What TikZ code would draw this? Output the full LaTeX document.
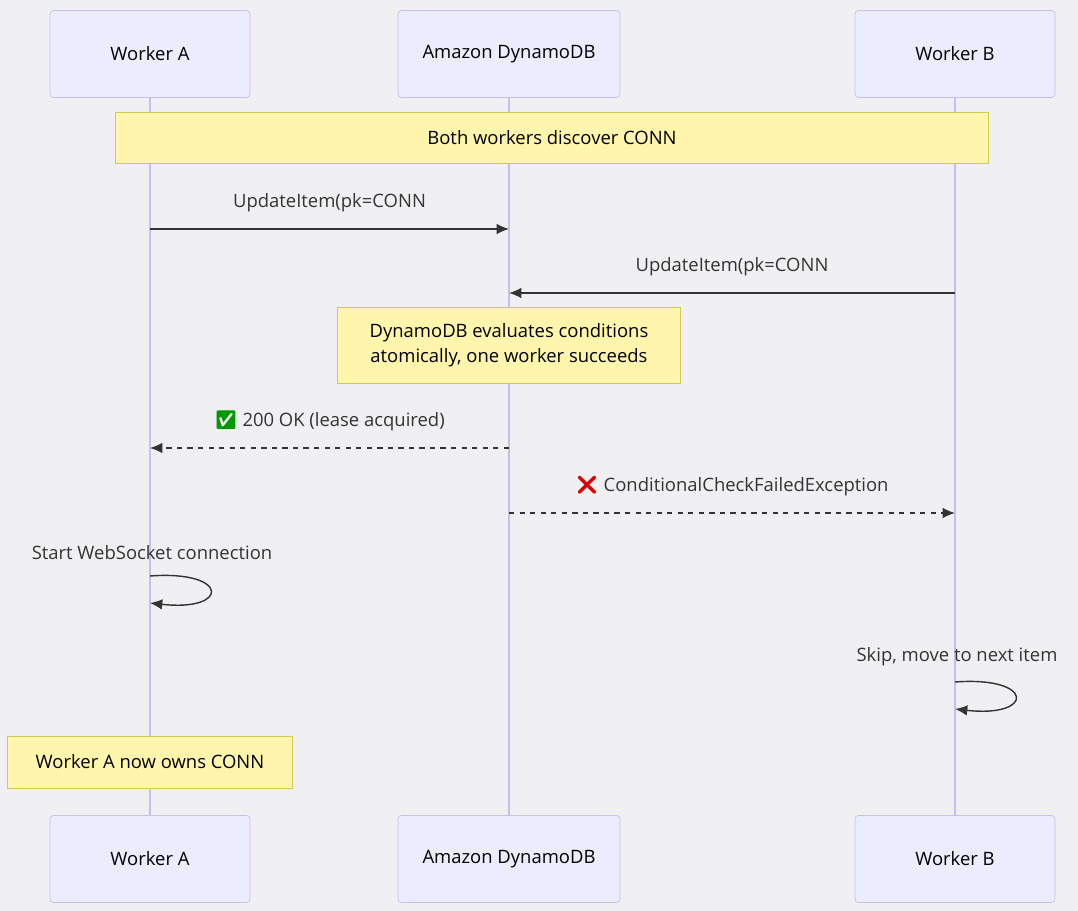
\documentclass[tikz,border=0pt]{standalone}
\usepackage{fontspec}
\setmainfont{Open Sans}
\newfontfamily\emojifont{Noto Emoji}
\usetikzlibrary{positioning,arrows.meta}
\definecolor{actfill}{HTML}{ECECFF}
\definecolor{actline}{HTML}{C8BDF0}
\definecolor{notefill}{HTML}{FFF5AD}
\definecolor{noteline}{HTML}{CCCC55}
\definecolor{ink}{HTML}{333333}
\definecolor{bg}{HTML}{F0F0F2}
\tikzset{
  actor/.style={draw=actline, fill=actfill, rounded corners=2pt, minimum width=200*0.02cm, minimum height=87*0.02cm, font=\fontsize{10.5}{12}\selectfont},
  note/.style={draw=noteline, fill=notefill, align=center, font=\fontsize{10.5}{14}\selectfont},
  msg/.style={-{Latex[length=7pt,width=6pt]}, ink, thick},
  reply/.style={msg, dashed},
  lbl/.style={font=\fontsize{10.5}{12}\selectfont, text=ink}
}
\begin{document}
\begin{tikzpicture}[x=0.02cm, y=-0.02cm]
  \fill[bg] (0,0) rectangle (1078,911);
  \useasboundingbox (0,0) rectangle (1078,911);

  % Lifelines
  \foreach \n/\x in {A/150, D/509, B/955} {
    \draw[actline, thick] (\x,97) -- (\x,815);
  }

  % Actors
  \node[actor] (topA) at (150,54) {Worker A};
  \node[actor, minimum width=222*0.02cm] (topD) at (509,54) {Amazon DynamoDB};
  \node[actor] (topB) at (955,54) {Worker B};
  \node[actor] (botA) at (150,859) {Worker A};
  \node[actor, minimum width=222*0.02cm] (botD) at (509,859) {Amazon DynamoDB};
  \node[actor] (botB) at (955,859) {Worker B};

  % Notes
  \node[note, minimum width=873*0.02cm, minimum height=51*0.02cm] (both) at (552,138) {Both workers discover CONN};
  \node[note, minimum width=343*0.02cm, minimum height=76*0.02cm] (eval) at (509,345) {DynamoDB evaluates conditions\\atomically, one worker succeeds};
  \node[note, minimum width=285*0.02cm, minimum height=52*0.02cm] (owns) at (150,762) {Worker A now owns CONN};

  % Messages
  \coordinate (a1) at (150,229); \coordinate (d1) at (509,229);
  \coordinate (b2) at (955,293); \coordinate (d2) at (509,293);
  \coordinate (d3) at (509,448); \coordinate (a3) at (150,448);
  \coordinate (d4) at (509,513); \coordinate (b4) at (955,513);
  \draw[msg] (a1) -- node[lbl, above=6pt] {UpdateItem(pk=CONN} (d1);
  \draw[msg] (b2) -- node[lbl, above=6pt] {UpdateItem(pk=CONN} (d2);
  \draw[reply] (d3) -- node[lbl, above=6pt] {{\emojifont\color{green!60!black}✅} 200 OK (lease acquired)} (a3);
  \draw[reply] (d4) -- node[lbl, above=6pt] {{\emojifont\color{red!85!black}❌} ConditionalCheckFailedException} (b4);

  % Self calls
  \coordinate (s1) at (150,576); \coordinate (e1) at (150,603);
  \coordinate (s2) at (955,682); \coordinate (e2) at (955,709);
  \node[lbl] (selfA) at (152,553) {Start WebSocket connection};
  \node[lbl] (selfB) at (957,657) {Skip, move to next item};
  \draw[msg] (s1) .. controls (230,570) and (230,612) .. (e1);
  \draw[msg] (s2) .. controls (1035,676) and (1035,718) .. (e2);
\end{tikzpicture}
\end{document}
